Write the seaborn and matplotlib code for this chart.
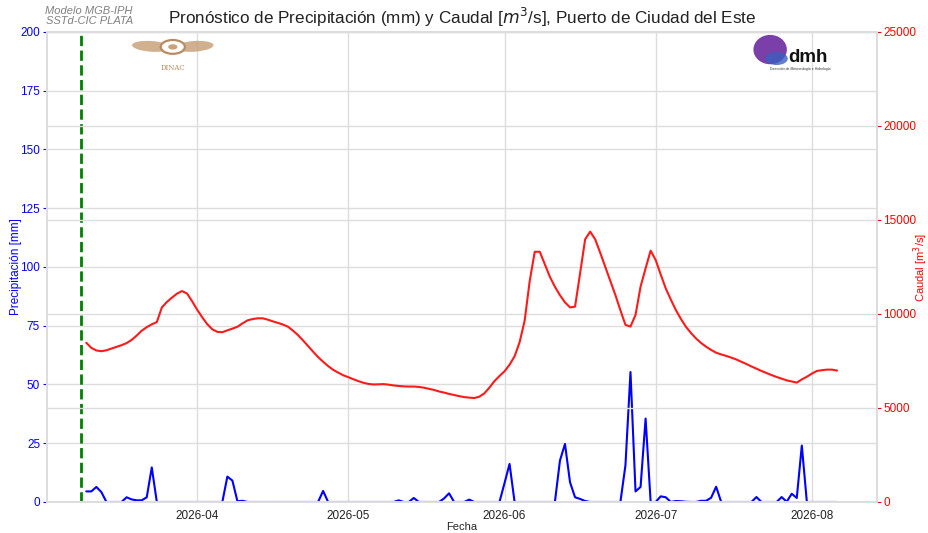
import numpy as np
import pandas as pd
import matplotlib
matplotlib.use("Agg")
import matplotlib.pyplot as plt
import matplotlib.dates as mdates
from matplotlib.patches import Circle, Ellipse
import seaborn as sns

# ---------------- data ----------------
start_date = "2026-03-10"
forecast_start = "2026-03-09"

precipitacion = [
    4.5, 4.5, 6.4, 4.2, 0, 0, 0, 0, 2.0, 1.1,
    0.7, 0.7, 2.0, 14.7, 0, 0, 0, 0, 0, 0,
    0, 0, 0, 0, 0, 0, 0, 0, 10.8, 9.1,
    0.3, 0.5, 0, 0, 0, 0, 0, 0, 0, 0,
    0, 0, 0, 0, 0, 0, 0, 4.7, 0, 0,
    0, 0, 0, 0, 0, 0, 0, 0, 0, 0,
    0, 0, 0.7, 0, 0, 1.7, 0, 0, 0, 0,
    0, 1.5, 3.7, 0, 0, 0, 1.0, 0, 0, 0,
    0, 0, 0, 8.0, 16.2, 0, 0, 0, 0, 0,
    0, 0, 0, 0, 17.6, 24.7, 8.4, 2.0, 1.3, 0.4,
    0, 0, 0, 0, 0, 0, 0, 15.6, 55.3, 4.5,
    6.4, 35.5, 0, 0, 2.4, 2.0, 0, 0.4, 0.3, 0.1,
    0, 0, 0.5, 0.5, 1.8, 6.5, 0, 0, 0, 0,
    0, 0, 0, 2.1, 0, 0, 0, 0, 2.1, 0.1,
    3.5, 1.7, 24.0, 0, 0, 0, 0, 0, 0, 0,
]

caudal = [
    8470, 8200, 8060, 8020, 8070, 8160, 8250, 8340, 8450, 8620,
    8850, 9110, 9300, 9450, 9570, 10350, 10640, 10870, 11080, 11220,
    11090, 10680, 10230, 9830, 9460, 9190, 9050, 9030, 9130, 9220,
    9320, 9500, 9660, 9730, 9770, 9770, 9700, 9610, 9530, 9440,
    9330, 9120, 8880, 8600, 8300, 8000, 7710, 7460, 7230, 7030,
    6880, 6740, 6640, 6530, 6430, 6340, 6280, 6250, 6260, 6270,
    6240, 6200, 6170, 6150, 6140, 6140, 6120, 6080, 6020, 5960,
    5880, 5820, 5750, 5690, 5630, 5580, 5550, 5530, 5600, 5780,
    6080, 6430, 6700, 6950, 7300, 7750, 8500, 9650, 11750, 13310,
    13310, 12650, 11980, 11450, 11000, 10620, 10350, 10390, 12160, 13970,
    14380, 13970, 13250, 12500, 11750, 11010, 10200, 9420, 9330, 9950,
    11450, 12430, 13370, 12870, 12100, 11360, 10770, 10210, 9740, 9320,
    8990, 8700, 8460, 8260, 8090, 7940, 7850, 7770, 7680, 7580,
    7460, 7340, 7210, 7090, 6970, 6860, 6750, 6650, 6560, 6470,
    6410, 6350, 6520, 6660, 6830, 6970, 7010, 7040, 7040, 6990,
]

precip_ticks = [0, 25, 50, 75, 100, 125, 150, 175, 200]
caudal_ticks = [0, 5000, 10000, 15000, 20000, 25000]

fechas = pd.date_range(start_date, periods=len(precipitacion), freq="D")
df = pd.DataFrame({"Fecha": fechas, "Precipitacion": precipitacion, "Caudal": caudal})

# ---------------- style ----------------
sns.set_theme(style="whitegrid")
plt.rcParams["font.family"] = ["Liberation Sans", "DejaVu Sans"]
plt.rcParams["axes.edgecolor"] = "#dddddd"
plt.rcParams["grid.color"] = "#dddddd"

fig = plt.figure(figsize=(9.29, 5.33), dpi=100)
ax = fig.add_axes([0.0506, 0.0582, 0.8934, 0.8818])

xmin = pd.Timestamp("2026-03-02 05:00")
xmax = pd.Timestamp("2026-08-13 22:00")

sns.lineplot(data=df, x="Fecha", y="Precipitacion", ax=ax, color="blue", linewidth=1.5)
ax.axvline(pd.Timestamp(forecast_start), color="green", linestyle="--", linewidth=2)
ax.set_ylim(0, 200)
ax.set_yticks(precip_ticks)
ax.set_ylabel("Precipitación [mm]", color="blue", fontsize=8.5, labelpad=-1)
ax.set_xlabel("Fecha", fontsize=8, labelpad=0)
ax.tick_params(axis="y", colors="blue", labelsize=8.5, left=True, length=3, width=0.8, pad=2)
ax.tick_params(axis="x", labelsize=8.5, colors="#222222", length=0, pad=5.5)
ax.xaxis.set_major_locator(mdates.MonthLocator())
ax.xaxis.set_major_formatter(mdates.DateFormatter("%Y-%m"))
ax.set_xlim(xmin, xmax)

ax2 = ax.twinx()
sns.lineplot(data=df, x="Fecha", y="Caudal", ax=ax2, color="#ff1a1a", linewidth=1.5)
ax2.set_ylim(0, 25000)
ax2.set_yticks(caudal_ticks)
ax2.set_ylabel("Caudal [m$^3$/s]", color="red", fontsize=8, labelpad=-3.5)
ax2.tick_params(axis="y", colors="red", labelsize=8.5, right=True, length=3, width=0.8, pad=1.5)
ax2.grid(True, axis="y", color="#dddddd")
ax2.set_xlim(xmin, xmax)
for s in ax2.spines.values():
    s.set_color("#dddddd")

ax.set_title("Pronóstico de Precipitación (mm) y Caudal [$m^3$/s], Puerto de Ciudad del Este",
             fontsize=12.3, color="#222222", pad=6)

fig.text(0.096, 0.988, "Modelo MGB-IPH\nSSTd-CIC PLATA", ha="center", va="top",
         fontsize=8, style="italic", color="grey", linespacing=1.0)

# --- DINAC logo approximation ---
wing = "#c8a27a"
fig.patches.append(Ellipse((0.163, 0.913), 0.042, 0.020, angle=-8, transform=fig.transFigure,
                           facecolor=wing, edgecolor="none", alpha=0.85))
fig.patches.append(Ellipse((0.209, 0.913), 0.042, 0.020, angle=8, transform=fig.transFigure,
                           facecolor=wing, edgecolor="none", alpha=0.85))
fig.patches.append(Circle((0.186, 0.912), 0.013, transform=fig.transFigure,
                          facecolor="white", edgecolor="#b88c60", linewidth=1.6))
fig.patches.append(Circle((0.186, 0.912), 0.005, transform=fig.transFigure,
                          facecolor="#c8a27a", edgecolor="none"))
fig.text(0.186, 0.873, "DINAC", ha="center", va="center", fontsize=5,
         family="DejaVu Serif", color="#b88c60")

# --- dmh logo approximation ---
fig.patches.append(Ellipse((0.829, 0.907), 0.036, 0.055, transform=fig.transFigure,
                           facecolor="#7a3fa8", edgecolor="none"))
fig.patches.append(Circle((0.836, 0.890), 0.012, transform=fig.transFigure,
                          facecolor="#3b5fc0", edgecolor="none", alpha=0.8))
fig.text(0.849, 0.893, "dmh", ha="left", va="center", fontsize=13.5,
         fontweight="bold", color="#111111")
fig.text(0.862, 0.870, "Dirección de Meteorología e Hidrología", ha="center", va="center",
         fontsize=2.5, color="#333333")

fig.savefig("out.png", dpi=100)
